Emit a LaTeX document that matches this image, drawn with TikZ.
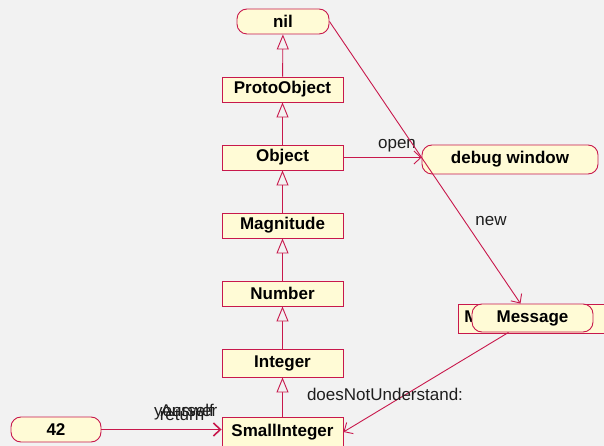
\documentclass[tikz,border=0pt]{standalone}
\usepackage{fontspec}
\setmainfont{Liberation Sans}
\usetikzlibrary{arrows.meta,positioning}

\definecolor{canvas}{RGB}{242,242,242}
\definecolor{boxfill}{RGB}{255,251,214}
\definecolor{edge}{RGB}{200,24,76}
\definecolor{labelink}{RGB}{30,30,30}

\tikzset{
  classbox/.style={draw=edge, fill=boxfill, line width=0.9bp, rectangle,
    minimum width=121bp, minimum height=25bp, inner sep=0pt,
    font=\fontsize{17bp}{20bp}\selectfont\bfseries},
  objbox/.style={classbox, rounded corners=10bp},
  inherits/.style={draw=edge, line width=0.9bp,
    -{Triangle[open, length=15bp, width=12bp, fill=canvas]}},
  sends/.style={draw=edge, line width=0.9bp, -{Straight Barb[length=7bp, width=13bp]}},
  msglabel/.style={font=\fontsize{17bp}{20bp}\selectfont, text=labelink, inner sep=0pt},
}

\begin{document}
\begin{tikzpicture}[x=1bp, y=-1bp]
  % canvas
  \fill[canvas] (0,0) rectangle (604,446);
  \useasboundingbox (0,0) rectangle (604,446);

  % class hierarchy
  \node[objbox, minimum width=92bp] (nil) at (283,21.5) {nil};
  \node[classbox] (proto) at (282.5,89.5) {ProtoObject};
  \node[classbox] (obj) at (282.5,157.5) {Object};
  \node[classbox] (mag) at (282.5,225.5) {Magnitude};
  \node[classbox] (num) at (282.5,293.5) {Number};
  \node[classbox, minimum height=28bp] (int) at (282.5,363) {Integer};
  \node[classbox, minimum height=30bp] (si) at (282.5,432) {SmallInteger};

  % objects
  \node[objbox, minimum width=90bp] (n42) at (56,429.5) {42};
  \node[objbox, minimum width=176bp, minimum height=29bp] (dbg) at (510,159.5) {debug window};
  \node[classbox, minimum width=162bp, minimum height=29bp, anchor=west,
        text width=150bp, align=left] (msgclass) at (458,318.5) {Message};
  \node[objbox, minimum height=28bp] (msg) at (532.5,318) {Message};

  % inheritance
  \draw[inherits] (proto) -- (nil);
  \draw[inherits] (obj) -- (proto);
  \draw[inherits] (mag) -- (obj);
  \draw[inherits] (num) -- (mag);
  \draw[inherits] (int) -- (num);
  \draw[inherits] (si) -- (int);

  % messages
  \draw[sends] (obj.east) -- (obj.east -| dbg.west);
  \node[msglabel] (lopen) at (397,146) {open};

  \draw[sends] (nil.east) -- ([xshift=-12bp]msg.north);
  \node[msglabel] (lnew) at (491,221) {new};

  \draw[sends] ([xshift=-24bp]msg.south) -- (si.east);
  \node[msglabel] (ldnu) at (385,394) {doesNotUnderstand:};

  \draw[sends, line width=1.6bp] (n42.east) -- (n42.east -| si.west);
  \node[msglabel] (lyou) at (184,412) {yourself};
  \node[msglabel] (lans) at (189,411) {Answer};
  \node[msglabel] (lret) at (182,415) {return};
\end{tikzpicture}
\end{document}
